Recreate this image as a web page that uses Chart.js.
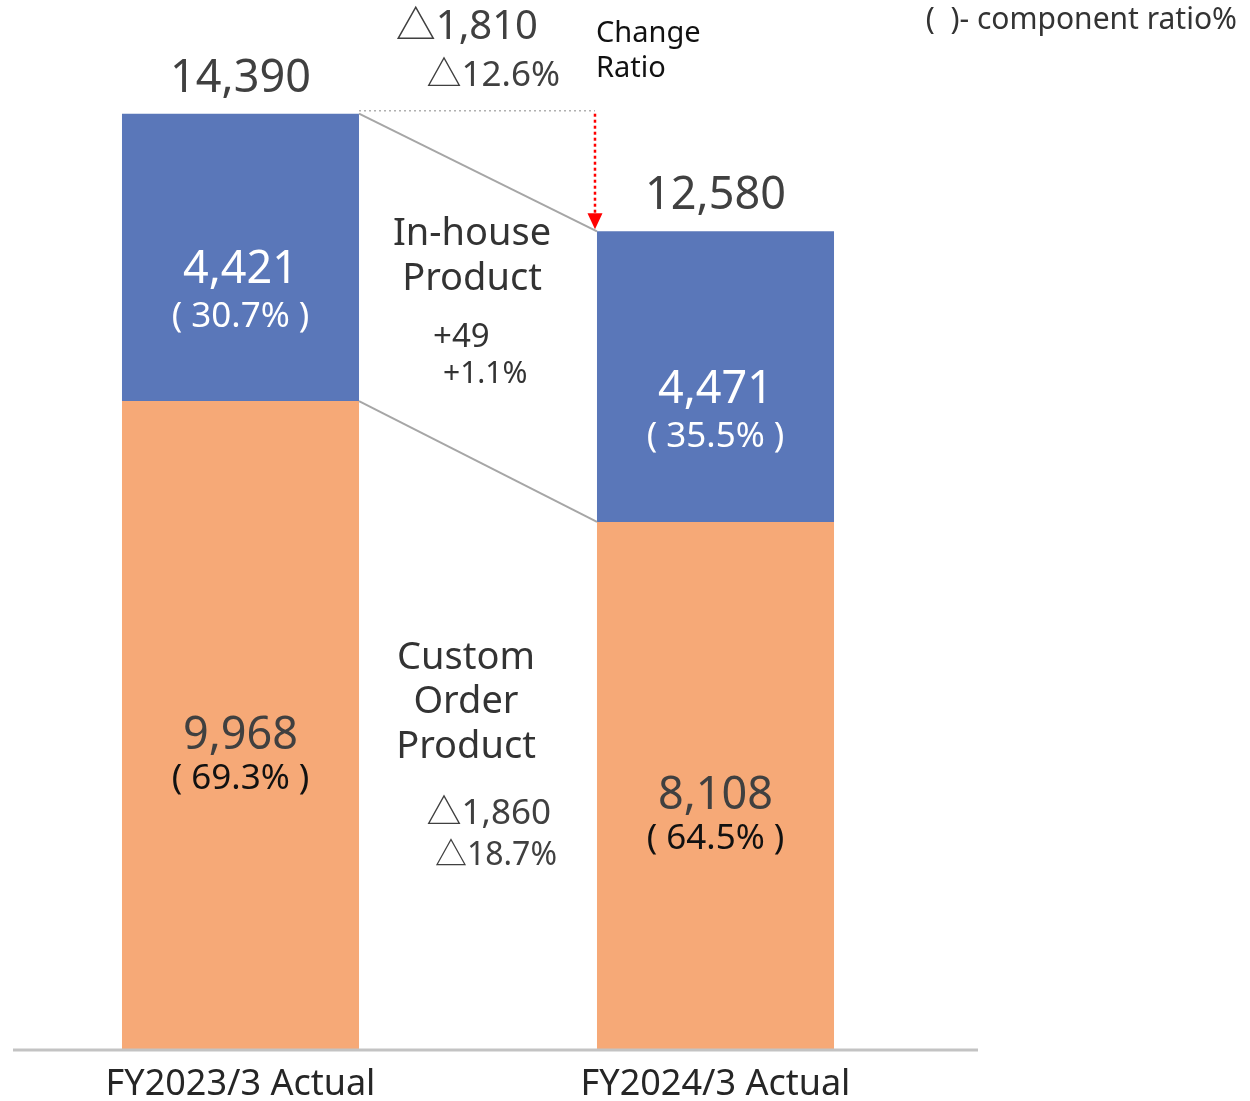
<!DOCTYPE html>
<html>
<head>
<meta charset="utf-8">
<script src="https://cdn.jsdelivr.net/npm/chart.js@4/dist/chart.umd.min.js"></script>
<style>
  html, body { margin: 0; padding: 0; background: #fff; }
  #wrap { width: 1250px; height: 1101px; }
</style>
</head>
<body>
<div id="wrap"><canvas id="chart" width="1250" height="1101"></canvas></div>
<script>
// ===== DATA =====
const categories    = ['FY2023/3 Actual', 'FY2024/3 Actual'];
const customOrder   = [9968, 8108];
const inHouse       = [4421, 4471];
const totals        = ['14,390', '12,580'];
const customRatio   = ['( 69.3% )', '( 64.5% )'];
const inHouseRatio  = ['( 30.7% )', '( 35.5% )'];
const totalChange   = ['△1,810', '△12.6%'];
const inHouseChange = ['+49', '+1.1%'];
const customChange  = ['△1,860', '△18.7%'];

const FONT = "'Noto Sans', 'Noto Sans CJK JP', 'DejaVu Sans', sans-serif";
const BLUE = '#5a77b9';
const ORANGE = '#f6a977';

const fmt = v => v.toLocaleString('en-US');

function text(ctx, str, x, y, size, color, align) {
  ctx.font = size + 'px ' + FONT;
  ctx.fillStyle = color;
  ctx.textAlign = align || 'center';
  ctx.textBaseline = 'alphabetic';
  ctx.fillText(str, x, y);
}

const overlay = {
  id: 'overlay',
  afterDatasetsDraw(chart) {
    const ctx = chart.ctx;
    const low = chart.getDatasetMeta(0).data;
    const top = chart.getDatasetMeta(1).data;
    const yScale = chart.scales.y;
    const half = low[0].width / 2;

    ctx.save();

    // x axis line
    const y0 = yScale.getPixelForValue(0) + 1;
    ctx.strokeStyle = '#c3c3c3';
    ctx.lineWidth = 3;
    ctx.beginPath(); ctx.moveTo(13, y0); ctx.lineTo(978, y0); ctx.stroke();

    // connector lines between bars
    ctx.strokeStyle = '#a6a6a6';
    ctx.lineWidth = 2;
    [top, low].forEach(els => {
      ctx.beginPath();
      ctx.moveTo(els[0].x + half, els[0].y);
      ctx.lineTo(els[1].x - half, els[1].y);
      ctx.stroke();
    });

    // dotted reference line from previous total
    const xL = top[0].x + half, xR = top[1].x - half - 2;
    ctx.strokeStyle = '#b0b0b0';
    ctx.lineWidth = 1.5;
    ctx.setLineDash([2, 3]);
    ctx.beginPath(); ctx.moveTo(xL, top[0].y - 3); ctx.lineTo(xR, top[0].y - 3); ctx.stroke();

    // red dotted arrow down to new total
    ctx.strokeStyle = '#ff0000';
    ctx.lineWidth = 2.5;
    ctx.setLineDash([3, 3]);
    ctx.beginPath(); ctx.moveTo(xR, top[0].y); ctx.lineTo(xR, top[1].y - 16); ctx.stroke();
    ctx.setLineDash([]);
    ctx.fillStyle = '#ff0000';
    ctx.beginPath();
    ctx.moveTo(xR - 7.5, top[1].y - 18);
    ctx.lineTo(xR + 7.5, top[1].y - 18);
    ctx.lineTo(xR, top[1].y - 2);
    ctx.closePath(); ctx.fill();

    // bar labels
    categories.forEach((c, i) => {
      const x = low[i].x;
      text(ctx, totals[i], x, top[i].y - 22, 45, '#404040');
      const mTop = (top[i].y + top[i].base) / 2;
      text(ctx, fmt(inHouse[i]), x, mTop + 26, 45, '#ffffff');
      text(ctx, inHouseRatio[i], x, mTop + 70, 35, '#ffffff');
      const mLow = (low[i].y + low[i].base) / 2;
      text(ctx, fmt(customOrder[i]), x, mLow + 24, 45, '#404040');
      text(ctx, customRatio[i], x, mLow + 64, 35, '#111111');
      text(ctx, c, x, 1095, 36, '#262626');
    });

    // change annotations
    text(ctx, totalChange[0], 538, 39, 40, '#404040', 'right');
    text(ctx, totalChange[1], 560, 86, 35, '#404040', 'right');
    text(ctx, 'Change', 596, 42, 29, '#111111', 'left');
    text(ctx, 'Ratio', 596, 77, 29, '#111111', 'left');
    text(ctx, '(  )- component ratio%', 1237, 29, 30, '#333333', 'right');

    text(ctx, 'In-house', 472, 245, 38, '#333333');
    text(ctx, 'Product', 472, 290, 38, '#333333');
    text(ctx, inHouseChange[0], 433, 347, 33, '#333333', 'left');
    text(ctx, inHouseChange[1], 443, 383, 30, '#333333', 'left');

    text(ctx, 'Custom', 466, 669, 38, '#333333');
    text(ctx, 'Order', 466, 713, 38, '#333333');
    text(ctx, 'Product', 466, 758, 38, '#333333');
    text(ctx, customChange[0], 551, 824, 35, '#404040', 'right');
    text(ctx, customChange[1], 557, 865, 32, '#404040', 'right');

    ctx.restore();
  }
};

new Chart(document.getElementById('chart'), {
  type: 'bar',
  data: {
    labels: categories,
    datasets: [
      { label: 'Custom Order Product', data: customOrder, backgroundColor: ORANGE },
      { label: 'In-house Product', data: inHouse, backgroundColor: BLUE }
    ]
  },
  options: {
    responsive: false,
    animation: false,
    categoryPercentage: 1,
    barPercentage: 0.499,
    layout: { padding: { left: 3, right: 297, top: 9, bottom: 52 } },
    plugins: { legend: { display: false }, tooltip: { enabled: false } },
    scales: {
      x: { stacked: true, display: false },
      y: { stacked: true, display: false, min: 0, max: 16000 }
    }
  },
  plugins: [overlay]
});
</script>
</body>
</html>
